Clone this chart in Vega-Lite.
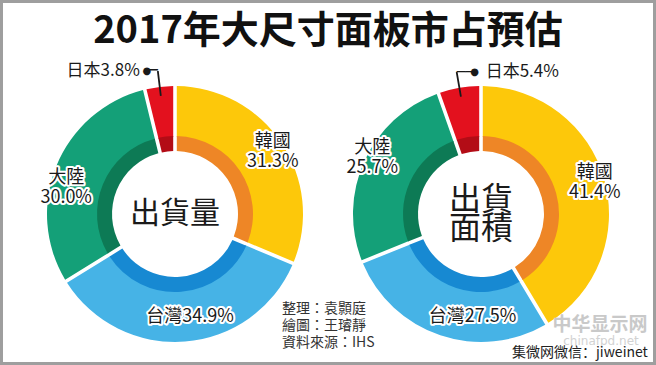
{
  "$schema": "https://vega.github.io/schema/vega-lite/v6.json",
  "width": 656,
  "height": 365,
  "autosize": "none",
  "padding": 0,
  "background": "white",
  "config": {
    "view": {"stroke": "#9e9e9e", "strokeWidth": 6},
    "text": {"font": "Noto Sans CJK TC"}
  },
  "title": {
    "text": "2017年大尺寸面板市占預估",
    "font": "Noto Sans CJK TC",
    "fontSize": 38,
    "fontWeight": "bold",
    "color": "#111111",
    "anchor": "middle",
    "offset": -51
  },
  "data": {
    "values": [
      {"chart": "出貨量", "country": "韓國", "value": 31.3, "rank": 1, "label": "韓國\n31.3%"},
      {"chart": "出貨量", "country": "台灣", "value": 34.9, "rank": 2, "label": "台灣34.9%"},
      {"chart": "出貨量", "country": "大陸", "value": 30.0, "rank": 3, "label": "大陸\n30.0%"},
      {"chart": "出貨量", "country": "日本", "value": 3.8, "rank": 4, "label": "日本3.8%"},
      {"chart": "出貨面積", "country": "韓國", "value": 41.4, "rank": 1, "label": "韓國\n41.4%"},
      {"chart": "出貨面積", "country": "台灣", "value": 27.5, "rank": 2, "label": "台灣27.5%"},
      {"chart": "出貨面積", "country": "大陸", "value": 25.7, "rank": 3, "label": "大陸\n25.7%"},
      {"chart": "出貨面積", "country": "日本", "value": 5.4, "rank": 4, "label": "日本5.4%"}
    ]
  },
  "layer": [
    {
      "transform": [{"filter": "datum.chart === '出貨量'"}],
      "encoding": {
        "x": {"field": "chart", "type": "nominal", "scale": {"type": "point", "domain": ["出貨量", "出貨面積"], "padding": 0.5719}, "axis": null},
        "y": {"datum": "c", "type": "nominal", "scale": {"type": "point", "align": 0.5863}, "axis": null}
      },
      "layer": [
        {
          "encoding": {
            "theta": {"field": "value", "type": "quantitative", "stack": true, "scale": {"domain": [0, 100]}},
            "order": {"field": "rank", "type": "quantitative"},
            "detail": {"field": "country", "type": "nominal"}
          },
          "layer": [
            {
              "mark": {"type": "arc", "innerRadius": 77, "outerRadius": 128, "padAngle": 0.024},
              "encoding": {"color": {"field": "country", "type": "nominal", "scale": {"domain": ["韓國", "台灣", "大陸", "日本"], "range": ["#FDC80A", "#46B3E6", "#14A078", "#E3111E"]}, "legend": null}}
            },
            {
              "mark": {"type": "arc", "innerRadius": 63, "outerRadius": 78, "padAngle": 0.036},
              "encoding": {"fill": {"field": "country", "type": "nominal", "scale": {"domain": ["韓國", "台灣", "大陸", "日本"], "range": ["#EE8626", "#1789D2", "#0D7A55", "#B30C16"]}, "legend": null}}
            },
            {
              "mark": {"type": "arc", "innerRadius": 119, "outerRadius": 144, "padAngle": 1.5, "filled": false, "stroke": "#1a1a1a", "strokeWidth": 1.8},
              "encoding": {"strokeOpacity": {"condition": {"test": "datum.country === '日本'", "value": 1}, "value": 0}}
            },
            {
              "encoding": {
                "theta": {"field": "value", "type": "quantitative", "stack": true, "bandPosition": 0.51},
                "text": {"condition": {"test": "datum.country !== '韓國'", "value": ""}, "field": "label"}
              },
              "layer": [
                {"mark": {"type": "text", "radius": 116, "dy": -10, "fontSize": 18, "lineBreak": "\n", "lineHeight": 20, "fill": "white", "stroke": "white", "strokeWidth": 4, "strokeJoin": "round"}},
                {"mark": {"type": "text", "radius": 116, "dy": -10, "fontSize": 18, "lineBreak": "\n", "lineHeight": 20, "fill": "#1a1a1a"}}
              ]
            },
            {
              "encoding": {
                "theta": {"field": "value", "type": "quantitative", "stack": true, "bandPosition": 0.47},
                "text": {"condition": {"test": "datum.country !== '台灣'", "value": ""}, "field": "label"}
              },
              "layer": [
                {"mark": {"type": "text", "radius": 104, "fontSize": 18, "fill": "white", "stroke": "white", "strokeWidth": 4, "strokeJoin": "round"}},
                {"mark": {"type": "text", "radius": 104, "fontSize": 18, "fill": "#1a1a1a"}}
              ]
            },
            {
              "encoding": {
                "theta": {"field": "value", "type": "quantitative", "stack": true, "bandPosition": 0.42},
                "text": {"condition": {"test": "datum.country !== '大陸'", "value": ""}, "field": "label"}
              },
              "layer": [
                {"mark": {"type": "text", "radius": 112, "dy": -10, "fontSize": 18, "lineBreak": "\n", "lineHeight": 20, "fill": "white", "stroke": "white", "strokeWidth": 4, "strokeJoin": "round"}},
                {"mark": {"type": "text", "radius": 112, "dy": -10, "fontSize": 18, "lineBreak": "\n", "lineHeight": 20, "fill": "#1a1a1a"}}
              ]
            },
            {
              "encoding": {
                "theta": {"field": "value", "type": "quantitative", "stack": true, "bandPosition": 0.5},
                "text": {"condition": {"test": "datum.country !== '日本'", "value": ""}, "field": "label"}
              },
              "mark": {"type": "text", "radius": 144, "align": "right", "dx": -18, "fontSize": 17, "fill": "#1a1a1a"}
            },
            {
              "encoding": {
                "theta": {"field": "value", "type": "quantitative", "stack": true, "bandPosition": 0.5},
                "text": {"condition": {"test": "datum.country === '日本'", "value": "─"}, "value": ""}
              },
              "mark": {"type": "text", "radius": 144, "align": "right", "font": "DejaVu Sans", "fontSize": 18, "fill": "#1a1a1a"}
            },
            {
              "encoding": {
                "theta": {"field": "value", "type": "quantitative", "stack": true, "bandPosition": 0.5},
                "text": {"condition": {"test": "datum.country === '日本'", "value": "●"}, "value": ""}
              },
              "mark": {"type": "text", "radius": 144, "align": "center", "dx": -11, "font": "DejaVu Sans", "fontSize": 10, "fill": "#1a1a1a"}
            }
          ]
        },
        {
          "transform": [{"aggregate": [{"op": "count", "as": "n"}], "groupby": ["chart"]}],
          "mark": {"type": "text", "fontSize": 30, "fill": "#1a1a1a"},
          "encoding": {"text": {"field": "chart", "type": "nominal"}}
        }
      ]
    },
    {
      "transform": [{"filter": "datum.chart === '出貨面積'"}],
      "encoding": {
        "x": {"field": "chart", "type": "nominal", "scale": {"type": "point", "domain": ["出貨量", "出貨面積"], "padding": 0.5719}, "axis": null},
        "y": {"datum": "c", "type": "nominal", "scale": {"type": "point", "align": 0.5863}, "axis": null}
      },
      "layer": [
        {
          "encoding": {
            "theta": {"field": "value", "type": "quantitative", "stack": true, "scale": {"domain": [0, 100]}},
            "order": {"field": "rank", "type": "quantitative"},
            "detail": {"field": "country", "type": "nominal"}
          },
          "layer": [
            {
              "mark": {"type": "arc", "innerRadius": 77, "outerRadius": 128, "padAngle": 0.024},
              "encoding": {"color": {"field": "country", "type": "nominal", "scale": {"domain": ["韓國", "台灣", "大陸", "日本"], "range": ["#FDC80A", "#46B3E6", "#14A078", "#E3111E"]}, "legend": null}}
            },
            {
              "mark": {"type": "arc", "innerRadius": 63, "outerRadius": 78, "padAngle": 0.036},
              "encoding": {"fill": {"field": "country", "type": "nominal", "scale": {"domain": ["韓國", "台灣", "大陸", "日本"], "range": ["#EE8626", "#1789D2", "#0D7A55", "#B30C16"]}, "legend": null}}
            },
            {
              "mark": {"type": "arc", "innerRadius": 119, "outerRadius": 144, "padAngle": 1.5, "filled": false, "stroke": "#1a1a1a", "strokeWidth": 1.8},
              "encoding": {"strokeOpacity": {"condition": {"test": "datum.country === '日本'", "value": 1}, "value": 0}}
            },
            {
              "encoding": {
                "theta": {"field": "value", "type": "quantitative", "stack": true, "bandPosition": 0.5},
                "text": {"condition": {"test": "datum.country !== '韓國'", "value": ""}, "field": "label"}
              },
              "layer": [
                {"mark": {"type": "text", "radius": 118, "dy": -10, "fontSize": 18, "lineBreak": "\n", "lineHeight": 20, "fill": "white", "stroke": "white", "strokeWidth": 4, "strokeJoin": "round"}},
                {"mark": {"type": "text", "radius": 118, "dy": -10, "fontSize": 18, "lineBreak": "\n", "lineHeight": 20, "fill": "#1a1a1a"}}
              ]
            },
            {
              "encoding": {
                "theta": {"field": "value", "type": "quantitative", "stack": true, "bandPosition": 0.36},
                "text": {"condition": {"test": "datum.country !== '台灣'", "value": ""}, "field": "label"}
              },
              "layer": [
                {"mark": {"type": "text", "radius": 103, "fontSize": 18, "fill": "white", "stroke": "white", "strokeWidth": 4, "strokeJoin": "round"}},
                {"mark": {"type": "text", "radius": 103, "fontSize": 18, "fill": "#1a1a1a"}}
              ]
            },
            {
              "encoding": {
                "theta": {"field": "value", "type": "quantitative", "stack": true, "bandPosition": 0.53},
                "text": {"condition": {"test": "datum.country !== '大陸'", "value": ""}, "field": "label"}
              },
              "layer": [
                {"mark": {"type": "text", "radius": 122, "dy": -10, "fontSize": 18, "lineBreak": "\n", "lineHeight": 20, "fill": "white", "stroke": "white", "strokeWidth": 4, "strokeJoin": "round"}},
                {"mark": {"type": "text", "radius": 122, "dy": -10, "fontSize": 18, "lineBreak": "\n", "lineHeight": 20, "fill": "#1a1a1a"}}
              ]
            },
            {
              "encoding": {
                "theta": {"field": "value", "type": "quantitative", "stack": true, "bandPosition": 0.5},
                "text": {"condition": {"test": "datum.country !== '日本'", "value": ""}, "field": "label"}
              },
              "mark": {"type": "text", "radius": 144, "align": "left", "dx": 29, "fontSize": 17, "fill": "#1a1a1a"}
            },
            {
              "encoding": {
                "theta": {"field": "value", "type": "quantitative", "stack": true, "bandPosition": 0.5},
                "text": {"condition": {"test": "datum.country === '日本'", "value": "──"}, "value": ""}
              },
              "mark": {"type": "text", "radius": 144, "align": "left", "font": "DejaVu Sans", "fontSize": 15, "fill": "#1a1a1a"}
            },
            {
              "encoding": {
                "theta": {"field": "value", "type": "quantitative", "stack": true, "bandPosition": 0.5},
                "text": {"condition": {"test": "datum.country === '日本'", "value": "●"}, "value": ""}
              },
              "mark": {"type": "text", "radius": 144, "align": "center", "dx": 18, "font": "DejaVu Sans", "fontSize": 10, "fill": "#1a1a1a"}
            }
          ]
        },
        {
          "transform": [{"aggregate": [{"op": "count", "as": "n"}], "groupby": ["chart"]}],
          "mark": {"type": "text", "fontSize": 32, "lineHeight": 29, "dy": -14, "fill": "#1a1a1a"},
          "encoding": {"text": {"value": ["出貨", "面積"]}}
        }
      ]
    },
    {
      "data": {"values": [{"note": "整理：袁顥庭\n繪圖：王璿靜\n資料來源：IHS"}]},
      "mark": {"type": "text", "align": "left", "dx": -46, "dy": 126, "fontSize": 14, "lineHeight": 17, "lineBreak": "\n", "fill": "#333333"},
      "encoding": {"text": {"field": "note", "type": "nominal"}}
    },
    {
      "data": {"values": [{"wm": "中华显示网", "site": "chinafpd.net", "wx": "集微网微信：jiweinet"}]},
      "layer": [
        {"mark": {"type": "text", "align": "center", "dx": 272, "dy": 142, "font": "Noto Sans CJK SC", "fontSize": 19, "fontWeight": "bold", "fill": "#c9c9c9"}, "encoding": {"text": {"field": "wm", "type": "nominal"}}},
        {"mark": {"type": "text", "align": "center", "dx": 273, "dy": 158, "font": "DejaVu Sans", "fontSize": 12, "fill": "#d2d2d2"}, "encoding": {"text": {"field": "site", "type": "nominal"}}},
        {"mark": {"type": "text", "align": "left", "dx": 184, "dy": 170, "font": "Noto Sans CJK SC", "fontSize": 14, "fill": "#222222"}, "encoding": {"text": {"field": "wx", "type": "nominal"}}}
      ]
    }
  ]
}
